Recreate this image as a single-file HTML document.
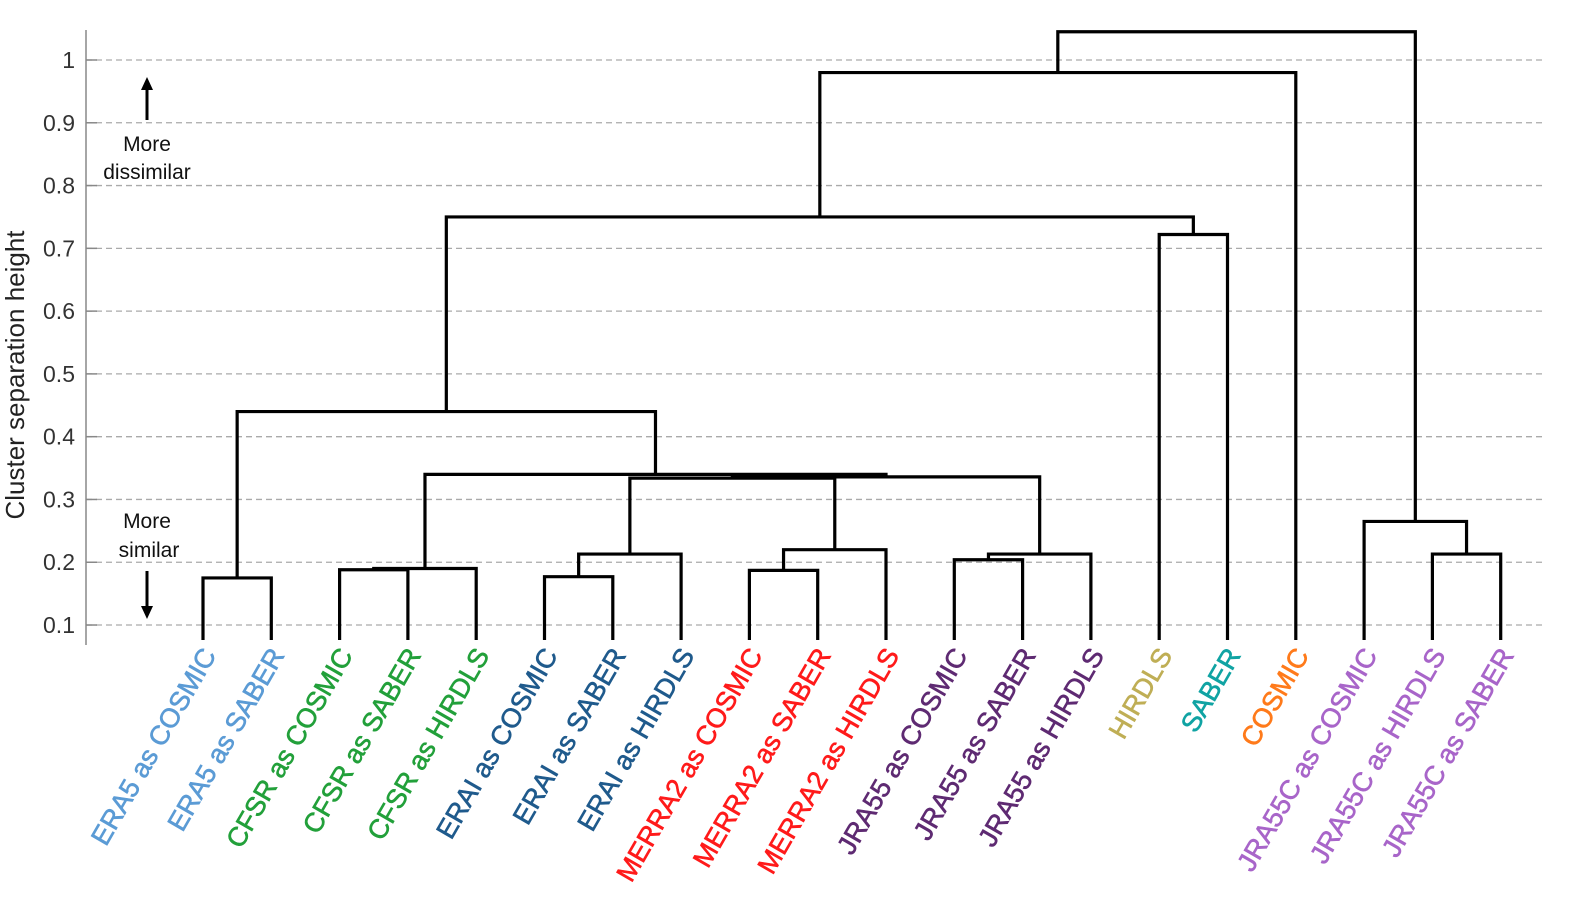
<!DOCTYPE html>
<html><head><meta charset="utf-8"><style>
html,body{margin:0;padding:0;background:#fff;}
svg{display:block;font-family:"Liberation Sans",Arial,sans-serif;}
</style></head><body>
<svg id="chart" width="1575" height="898" viewBox="0 0 1575 898" xmlns="http://www.w3.org/2000/svg">
<g id="grid"></g>
<g id="axis"></g>
<g id="links"></g>
<g id="labels"></g>
<text x="24" y="375" font-size="26" fill="#222" text-anchor="middle" transform="rotate(-90 24 375)">Cluster separation height</text>
<g>
<line x1="147" y1="120" x2="147" y2="88" stroke="#000" stroke-width="3"/>
<polygon points="141,90 153,90 147,77" fill="#000"/>
<text x="147" y="151" font-size="21" text-anchor="middle" fill="#111">More</text>
<text x="147" y="179" font-size="21" text-anchor="middle" fill="#111">dissimilar</text>
</g>
<g>
<text x="147" y="528" font-size="21" text-anchor="middle" fill="#111">More</text>
<text x="149" y="557" font-size="21" text-anchor="middle" fill="#111">similar</text>
<line x1="147" y1="571" x2="147" y2="608" stroke="#000" stroke-width="3"/>
<polygon points="141,606 153,606 147,619" fill="#000"/>
</g>
</svg>
<script>
const leafLabels = ["ERA5 as COSMIC","ERA5 as SABER","CFSR as COSMIC","CFSR as SABER","CFSR as HIRDLS","ERAI as COSMIC","ERAI as SABER","ERAI as HIRDLS","MERRA2 as COSMIC","MERRA2 as SABER","MERRA2 as HIRDLS","JRA55 as COSMIC","JRA55 as SABER","JRA55 as HIRDLS","HIRDLS","SABER","COSMIC","JRA55C as COSMIC","JRA55C as HIRDLS","JRA55C as SABER"];
const leafColors = ["#5b9bd5","#5b9bd5","#22a03a","#22a03a","#22a03a","#1f5a8c","#1f5a8c","#1f5a8c","#ff1a1a","#ff1a1a","#ff1a1a","#5e2a72","#5e2a72","#5e2a72","#bfae55","#10a3a3","#ff7a1a","#a865c9","#a865c9","#a865c9"];
// merges in order; node id = 20 + index
const mergeLeft = [0,2,21,5,23,8,25,11,27,24,29,22,20,14,32,34,18,17,35];
const mergeRight = [1,3,4,6,7,9,10,12,13,26,28,30,31,15,33,16,19,36,37];
const mergeHeight = [0.175,0.188,0.190,0.177,0.213,0.187,0.220,0.204,0.213,0.334,0.336,0.340,0.44,0.722,0.75,0.98,0.213,0.265,1.045];
const yTicks = [0.1,0.2,0.3,0.4,0.5,0.6,0.7,0.8,0.9,1];
</script>
<script>
(function(){
const NS="http://www.w3.org/2000/svg";
const yS=v=>60+(1-v)*627.8;
const xL=i=>203+i*68.3;
const leafBottom=640;
function mk(tag,attrs,parent){const e=document.createElementNS(NS,tag);for(const k in attrs)e.setAttribute(k,attrs[k]);parent.appendChild(e);return e;}
const grid=document.getElementById('grid'),axis=document.getElementById('axis'),links=document.getElementById('links'),labels=document.getElementById('labels');
yTicks.forEach(t=>{
  const y=yS(t);
  const g=mk('line',{x1:86,x2:1545,y1:y,y2:y,stroke:'#aaa','stroke-width':1.3,'stroke-dasharray':'6,4'},grid);
  
  
  mk('line',{x1:86,x2:97,y1:y,y2:y,stroke:'#888','stroke-width':1.5},axis);
  const tx=mk('text',{x:75,y:y+8,'font-size':23,'text-anchor':'end',fill:'#333'},axis);
  tx.textContent=String(t);
  
  
});
mk('line',{x1:86,x2:86,y1:30,y2:645,stroke:'#888','stroke-width':1.5},axis);
const pos={},ht={};
leafLabels.forEach((_,i)=>{pos[i]=xL(i);ht[i]=null;});
mergeLeft.forEach((a,k)=>{
  const id=20+k,b=mergeRight[k],h=mergeHeight[k];
  const ya=ht[a]===null?leafBottom:yS(ht[a]);
  const yb=ht[b]===null?leafBottom:yS(ht[b]);
  const y=yS(h);
  const p=mk('path',{d:`M${pos[a]},${ya}V${y}H${pos[b]}V${yb}`,fill:'none',stroke:'#000','stroke-width':3.2},links);
  
  
  pos[id]=(pos[a]+pos[b])/2;ht[id]=h;
});
leafLabels.forEach((l,i)=>{
  const x=xL(i)+14,y=655;
  const t=mk('text',{x:x,y:y,'font-size':27,'text-anchor':'end',fill:leafColors[i],stroke:leafColors[i],'stroke-width':0.6,transform:`rotate(-60 ${x} ${y})`},labels);
  t.textContent=l;
  
  
});
})();
</script>
</body></html>
